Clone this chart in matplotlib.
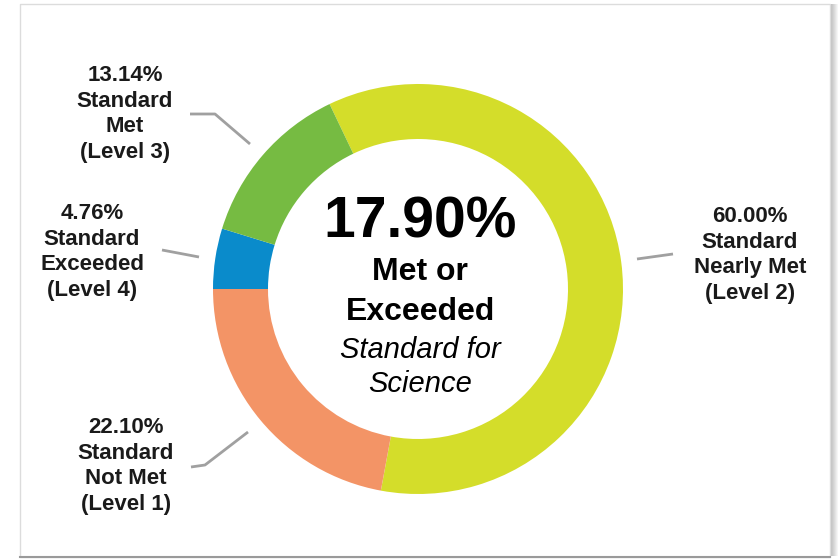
import matplotlib.pyplot as plt
from matplotlib.patches import Rectangle

plt.rcParams['font.family'] = ['Liberation Sans', 'DejaVu Sans']

# science results by level, clockwise from the top
levels = ['Standard\nNearly Met\n(Level 2)', 'Standard\nNot Met\n(Level 1)',
          'Standard\nExceeded\n(Level 4)', 'Standard\nMet\n(Level 3)']
shares = [60.00, 22.10, 4.76, 13.14]
colors = ['#d4dd2a', '#f39466', '#0a8bcb', '#76bb42']
met_or_exceeded = shares[2] + shares[3]

# label anchors (text centre) and leader lines, in pixel units
label_xy = [(750, 255), (126, 466), (92, 252), (125, 114)]
leaders = [[(637, 259), (673, 254)],
           [(191, 467), (205, 465), (248, 432)],
           [(162, 250), (199, 257)],
           [(190, 114), (215, 114), (250, 144)]]

W, H = 838, 559
fig = plt.figure(figsize=(W / 100, H / 100), dpi=100)
ax = fig.add_axes([0, 0, 1, 1])

def fy(y):
    return H - y

# card with a soft shadow on the right
for i in range(8):
    ax.add_patch(Rectangle((20, fy(556)), 810 + 8 - i, 552,
                           facecolor='black', alpha=0.035, edgecolor='none', zorder=0))
ax.add_patch(Rectangle((20, fy(557)), 810, 553, facecolor='white',
                       edgecolor='#dcdcdc', linewidth=1, zorder=1))
ax.plot([20, 830], [fy(557), fy(557)], color='#9a9a9a', lw=1.5, zorder=1)

start = 90 + (shares[0] + shares[1]) * 3.6 - 270
ax.pie(shares, colors=colors, startangle=start, counterclock=False,
       center=(418, fy(289)), radius=205, frame=True,
       wedgeprops=dict(width=55, edgecolor='none'))
ax.set_xlim(0, W)
ax.set_ylim(0, H)
ax.set_aspect('equal')
ax.axis('off')

for name, val, (x, y), pts in zip(levels, shares, label_xy, leaders):
    ax.text(x, fy(y), f'{val:.2f}%\n{name}', ha='center', va='center',
            fontsize=16, fontweight='bold', color='#1a1a1a',
            linespacing=1.3, zorder=5)
    ax.plot([p[0] for p in pts], [fy(p[1]) for p in pts],
            color='#a0a0a0', lw=2, solid_capstyle='butt', zorder=4)

ax.text(420, fy(222), f'{met_or_exceeded:.2f}%', ha='center', va='center',
        fontsize=41, fontweight='bold', color='black', zorder=5)
ax.text(420, fy(292), 'Met or\nExceeded', ha='center', va='center',
        fontsize=23, fontweight='bold', color='black', linespacing=1.4, zorder=5)
ax.text(420, fy(367), 'Standard for\nScience', ha='center', va='center',
        fontsize=21, fontstyle='italic', color='black', linespacing=1.25, zorder=5)

fig.savefig('out.png', dpi=100, facecolor='white')
